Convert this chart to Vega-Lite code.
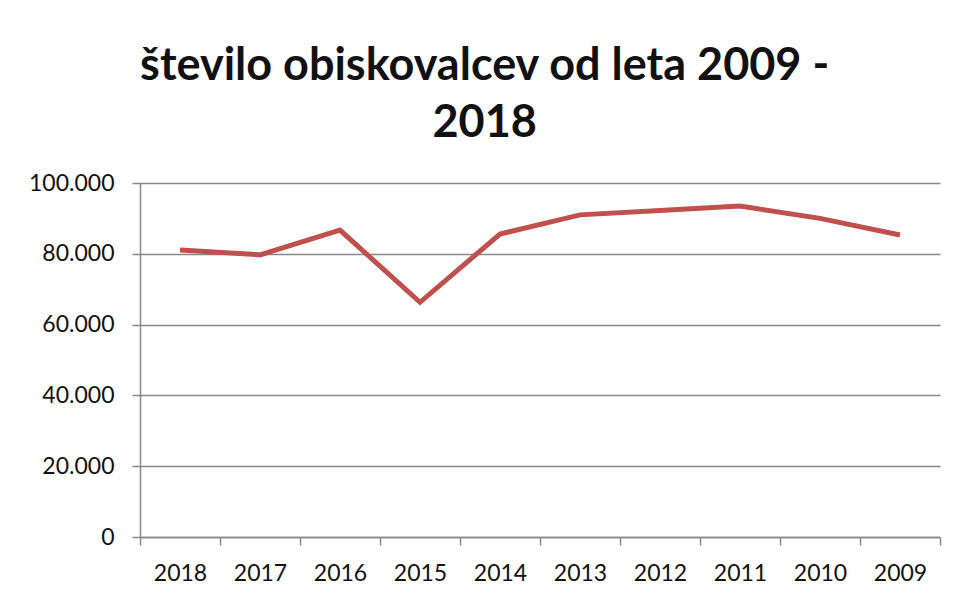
{
  "$schema": "https://vega.github.io/schema/vega-lite/v6.json",
  "autosize": {"type": "none"},
  "width": 800,
  "height": 354,
  "padding": {"left": 140, "top": 183, "right": 18, "bottom": 59},
  "background": "white",
  "title": {
    "text": ["število obiskovalcev od leta 2009 -", "2018"],
    "font": "Lato",
    "fontSize": 45,
    "fontWeight": "bold",
    "color": "#111111",
    "anchor": "middle",
    "frame": "bounds",
    "lineHeight": 57,
    "offset": 26
  },
  "data": {
    "values": [
      {"leto": "2018", "obiskovalci": 81100},
      {"leto": "2017", "obiskovalci": 79700},
      {"leto": "2016", "obiskovalci": 86700},
      {"leto": "2015", "obiskovalci": 66300},
      {"leto": "2014", "obiskovalci": 85600},
      {"leto": "2013", "obiskovalci": 91000},
      {"leto": "2012", "obiskovalci": 92200},
      {"leto": "2011", "obiskovalci": 93500},
      {"leto": "2010", "obiskovalci": 90000},
      {"leto": "2009", "obiskovalci": 85300}
    ]
  },
  "mark": {"type": "line", "color": "#C0504D", "strokeWidth": 5, "strokeJoin": "miter", "strokeCap": "butt"},
  "encoding": {
    "x": {
      "field": "leto",
      "type": "ordinal",
      "sort": null,
      "scale": {"type": "band", "paddingInner": 0, "paddingOuter": 0},
      "axis": {
        "title": null,
        "labelAngle": 0,
        "labelFont": "Lato",
        "labelFontSize": 23,
        "labelColor": "#111111",
        "labelPadding": 17,
        "tickBand": "extent",
        "tickSize": 8,
        "tickColor": "#888888",
        "tickWidth": 1.5,
        "domainColor": "#888888",
        "domainWidth": 1.5,
        "grid": false
      }
    },
    "y": {
      "field": "obiskovalci",
      "type": "quantitative",
      "scale": {"domain": [0, 100000], "nice": false},
      "axis": {
        "title": null,
        "values": [0, 20000, 40000, 60000, 80000, 100000],
        "labelExpr": "replace(format(datum.value, ','), ',', '.')",
        "labelFont": "Lato",
        "labelFontSize": 23,
        "labelColor": "#111111",
        "labelPadding": 18,
        "tickSize": 8,
        "tickColor": "#888888",
        "tickWidth": 1.5,
        "domainColor": "#888888",
        "domainWidth": 1.5,
        "grid": true,
        "gridColor": "#888888",
        "gridWidth": 1.5
      }
    }
  },
  "config": {"view": {"stroke": null}}
}
